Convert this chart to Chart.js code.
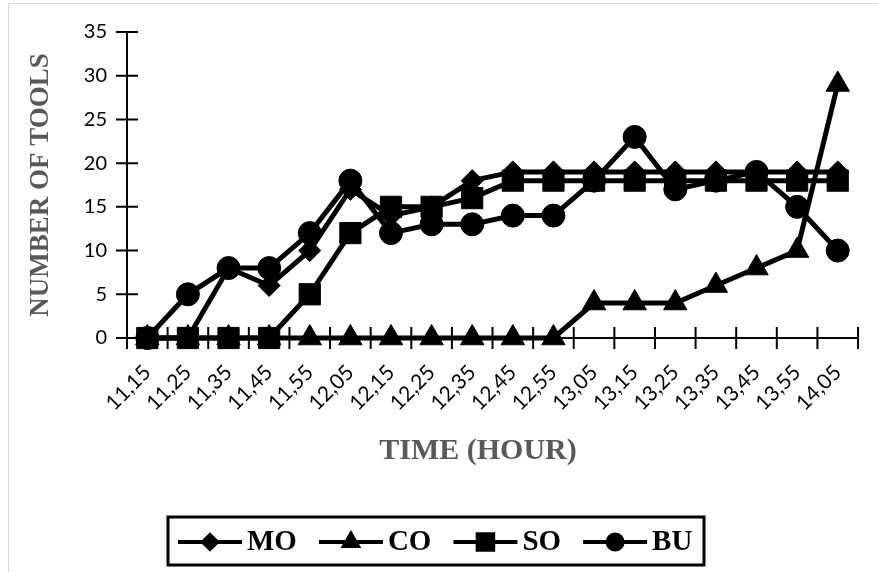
<!DOCTYPE html>
<html>
<head>
<meta charset="utf-8">
<script src="https://cdn.jsdelivr.net/npm/chart.js@4.4.1/dist/chart.umd.min.js"></script>
<style>
    html, body { margin: 0; padding: 0; background: #fff; overflow: hidden; }
    #frame { position: absolute; left: 8px; top: 3px; width: 900px; height: 600px; border: 1px solid #d9d9d9; }
    #wrap { position: absolute; left: 0; top: 0; width: 878px; height: 572px; }
</style>
</head>
<body>
<div id="frame"></div>
<div id="wrap"><canvas id="chart1"></canvas></div>
<script>
const times = ["11,15", "11,25", "11,35", "11,45", "11,55", "12,05", "12,15", "12,25", "12,35",
    "12,45", "12,55", "13,05", "13,15", "13,25", "13,35", "13,45", "13,55", "14,05"]
const moValues = [0, 0, 8, 6, 10, 17, 14, 15, 18, 19, 19, 19, 19, 19, 19, 19, 19, 19]
const coValues = [0, 0, 0, 0, 0, 0, 0, 0, 0, 0, 0, 4, 4, 4, 6, 8, 10, 29]
const soValues = [0, 0, 0, 0, 5, 12, 15, 15, 16, 18, 18, 18, 18, 18, 18, 18, 18, 18]
const buValues = [0, 5, 8, 8, 12, 18, 12, 13, 13, 14, 14, 18, 23, 17, 18, 19, 15, 10]
const yTicks = [0, 5, 10, 15, 20, 25, 30, 35]

const serif = "'Liberation Serif', 'Times New Roman', serif"

function series(label, data, pointStyle, radius, order) {
    return {
        label: label,
        data: data,
        borderColor: "#000",
        borderWidth: 5,
        backgroundColor: "#000",
        pointStyle: pointStyle,
        pointRadius: radius,
        pointBackgroundColor: "#000",
        pointBorderColor: "#000",
        pointBorderWidth: 1,
        tension: 0,
        clip: false,
        order: order
    }
}

// tick marks crossing the axes, like the original
const crossTicks = {
    id: "crossTicks",
    beforeDatasetsDraw(chart) {
        const { ctx, scales: { x, y } } = chart
        ctx.save()
        ctx.strokeStyle = "#000"
        ctx.lineWidth = 2
        ctx.beginPath()
        yTicks.forEach(v => {
            const py = y.getPixelForValue(v)
            ctx.moveTo(x.left - 11, py)
            ctx.lineTo(x.left + 11, py)
        })
        for (let i = 0; i <= times.length; i++) {
            const px = x.getPixelForValue(i - 0.5)
            ctx.moveTo(px, y.bottom - 11)
            ctx.lineTo(px, y.bottom + 11)
        }
        ctx.stroke()
        ctx.restore()
    }
}

// x title (sits left of centre in the original) and boxed legend
const boxLegend = {
    id: "boxLegend",
    afterDraw(chart) {
        const ctx = chart.ctx
        const sizes = { rectRot: 7, triangle: 8, rect: 11, circle: 7.5 }
        ctx.save()
        ctx.font = "bold 30px " + serif
        ctx.fillStyle = "#595959"
        ctx.textAlign = "center"
        ctx.textBaseline = "middle"
        ctx.fillText("TIME (HOUR)", 478, 451)

        ctx.textAlign = "left"
        ctx.lineWidth = 3
        ctx.strokeStyle = "#000"
        ctx.strokeRect(168, 517, 536, 48)
        ctx.font = "bold 29px " + serif
        ctx.fillStyle = "#000"
        const cy = 542
        let cx = 178
        chart.data.datasets.forEach(ds => {
            ctx.lineWidth = 4
            ctx.beginPath()
            ctx.moveTo(cx, cy)
            ctx.lineTo(cx + 64, cy)
            ctx.stroke()
            Chart.helpers.drawPoint(ctx, { pointStyle: ds.pointStyle, radius: sizes[ds.pointStyle], rotation: 0, borderWidth: 1 }, cx + 32, cy)
            ctx.fillStyle = "#000"
            ctx.fill()
            ctx.fillText(ds.label, cx + 69, cy + 1)
            cx += 69 + ctx.measureText(ds.label).width + 22
        })
        ctx.restore()
    }
}

new Chart(document.getElementById("chart1"), {
    type: "line",
    data: {
        labels: times,
        datasets: [
            series("MO", moValues, "rectRot", 11, 4),
            series("CO", coValues, "triangle", 13.5, 3),
            series("SO", soValues, "rect", 15, 2),
            series("BU", buValues, "circle", 11.5, 1)
        ]
    },
    options: {
        responsive: true,
        maintainAspectRatio: false,
        animation: false,
        layout: { padding: { top: 31, right: 6, bottom: 0, left: 0 } },
        plugins: {
            legend: { display: false },
            tooltip: { enabled: false }
        },
        scales: {
            x: {
                offset: true,
                afterFit: s => { s.height = 234 },
                grid: { display: false, drawTicks: false },
                border: { display: true, color: "#000", width: 2 },
                ticks: {
                    color: "#000",
                    font: { family: "Lato", size: 21 },
                    autoSkip: false,
                    minRotation: 45,
                    maxRotation: 45,
                    padding: 22
                }
            },
            y: {
                min: 0,
                max: 35,
                afterFit: s => { s.width = 127 },
                afterBuildTicks: s => { s.ticks = yTicks.map(v => ({ value: v })) },
                grid: { display: false, drawTicks: false },
                border: { display: true, color: "#000", width: 2 },
                ticks: {
                    color: "#000",
                    font: { family: "Lato", size: 20 },
                    padding: 20
                },
                title: {
                    display: true,
                    text: "NUMBER OF TOOLS",
                    color: "#595959",
                    font: { family: serif, size: 27, weight: "bold" },
                    padding: { top: 25, bottom: 0 }
                }
            }
        }
    },
    plugins: [crossTicks, boxLegend]
});
</script>
</body>
</html>
